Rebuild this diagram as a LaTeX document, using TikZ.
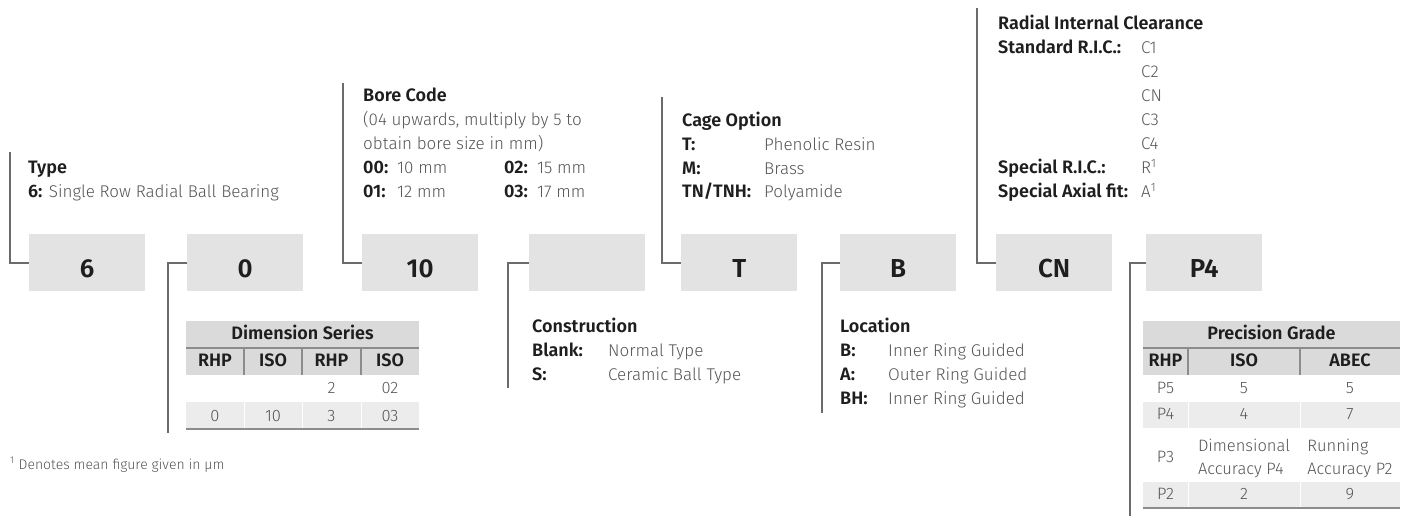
\documentclass[tikz,border=0pt]{standalone}
\usepackage{fontspec}
\setmainfont{Fira Sans}[UprightFont={* Light}, BoldFont={* SemiBold}]
\definecolor{boxgray}{HTML}{E3E3E3}
\definecolor{linegray}{HTML}{6B6B6B}
\definecolor{headcol}{HTML}{1E1E1E}
\definecolor{bodycol}{HTML}{555555}
\definecolor{hdrfill}{HTML}{DADADA}
\definecolor{rowfill}{HTML}{ECECEC}
\definecolor{tline}{HTML}{8C8C8C}
\begin{document}
\begin{tikzpicture}[x=1pt,y=-1pt,
  conn/.style={draw=linegray, line width=2pt},
  codebox/.style={fill=boxgray, minimum width=116pt, minimum height=57pt, inner sep=0pt,
    text height=29pt, text depth=0pt, anchor=north west,
    font=\bfseries\fontsize{26}{26}\selectfont, text=headcol},
  hd/.style={font=\bfseries\fontsize{18}{20}\selectfont, text=headcol, anchor=base west, inner sep=0pt},
  bk/.style={font=\bfseries\fontsize{18}{20}\selectfont, text=headcol, anchor=base west, inner sep=0pt},
  bd/.style={font=\fontsize{17}{20}\selectfont, text=bodycol, anchor=base west, inner sep=0pt},
  th/.style={font=\bfseries\fontsize{18}{20}\selectfont, text=headcol, anchor=base, inner sep=0pt},
  td/.style={font=\fontsize{16.5}{19}\selectfont, text=bodycol, anchor=base, inner sep=0pt},
  tl/.style={draw=tline, line width=1.2pt},
  wl/.style={draw=white, line width=1pt}
]
\useasboundingbox (0,0) rectangle (1406,518);

% code boxes
\node[codebox] (b6) at (29,234) {6};
\node[codebox] (b0) at (187,234) {0};
\node[codebox] (b10) at (362,234) {10};
\node[codebox] (bblank) at (529,234) {};
\node[codebox] (bT) at (681,234) {T};
\node[codebox] (bB) at (840,234) {B};
\node[codebox] (bCN) at (996,234) {CN};
\node[codebox] (bP4) at (1146,234) {P4};

% connector ends
\coordinate (cType) at (10,152);
\coordinate (cDim) at (168,433);
\coordinate (cBore) at (343,83);
\coordinate (cCon) at (508,388);
\coordinate (cCage) at (662,97);
\coordinate (cLoc) at (822,413);
\coordinate (cRic) at (977,8);
\coordinate (cPrec) at (1130,516);

\draw[conn] (cType) |- (b6.west);
\draw[conn] (b0.west) -| (cDim);
\draw[conn] (cBore) |- (b10.west);
\draw[conn] (bblank.west) -| (cCon);
\draw[conn] (cCage) |- (bT.west);
\draw[conn] (bB.west) -| (cLoc);
\draw[conn] (cRic) |- (bCN.west);
\draw[conn] (bP4.west) -| (cPrec);

% Type
\node[hd] (typeT) at (28,174) {Type};
\node[bd] (type1) at (28,198) {{\color{headcol}\bfseries\fontsize{18}{20}\selectfont 6:} Single Row Radial Ball Bearing};

% Bore code
\node[hd] (boreT) at (363,102) {Bore Code};
\node[bd] (bore1) at (363,126) {(04 upwards, multiply by 5 to};
\node[bd] (bore2) at (363,150) {obtain bore size in mm)};
\node[bk] (k00) at (363,174) {00:}; \node[bd] (v00) at (397,174) {10 mm};
\node[bk] (k01) at (363,198) {01:}; \node[bd] (v01) at (397,198) {12 mm};
\node[bk] (k02) at (504,174) {02:}; \node[bd] (v02) at (537,174) {15 mm};
\node[bk] (k03) at (504,198) {03:}; \node[bd] (v03) at (537,198) {17 mm};

% Cage option
\node[hd] (cageT) at (682,127) {Cage Option};
\node[bk] (kT) at (682,151) {T:}; \node[bd] (vT) at (764,151) {Phenolic Resin};
\node[bk] (kM) at (682,175) {M:}; \node[bd] (vM) at (764,175) {Brass};
\node[bk] (kTN) at (682,198) {TN/TNH:}; \node[bd] (vTN) at (764,198) {Polyamide};

% Radial internal clearance
\node[hd] (ricT) at (998,30) {Radial Internal Clearance};
\node[bk] (kStd) at (998,54) {Standard R.I.C.:};
\node[bd] (vC1) at (1141,54) {C1};
\node[bd] (vC2) at (1141,78) {C2};
\node[bd] (vCN) at (1141,102) {CN};
\node[bd] (vC3) at (1141,126) {C3};
\node[bd] (vC4) at (1141,150) {C4};
\node[bk] (kSpR) at (998,174) {Special R.I.C.:}; \node[bd] (vR) at (1141,174) {R\textsuperscript{1}};
\node[bk] (kSpA) at (998,198) {Special Axial fit:}; \node[bd] (vA) at (1141,198) {A\textsuperscript{1}};

% Construction
\node[hd] (conT) at (532,333) {Construction};
\node[bk] (kBl) at (532,357) {Blank:}; \node[bd] (vBl) at (608,357) {Normal Type};
\node[bk] (kS) at (532,381) {S:}; \node[bd] (vS) at (608,381) {Ceramic Ball Type};

% Location
\node[hd] (locT) at (840,333) {Location};
\node[bk] (kLB) at (840,357) {B:}; \node[bd] (vLB) at (888,357) {Inner Ring Guided};
\node[bk] (kLA) at (840,381) {A:}; \node[bd] (vLA) at (888,381) {Outer Ring Guided};
\node[bk] (kLBH) at (840,405) {BH:}; \node[bd] (vLBH) at (888,405) {Inner Ring Guided};

% Dimension series table
\fill[hdrfill] (186,321) rectangle (419,375);
\fill[rowfill] (186,402) rectangle (419,429);
\draw[tl] (186,348) -- (419,348);
\draw[tl] (244,348) -- (244,375);
\draw[tl] (302,348) -- (302,375);
\draw[tl] (361,348) -- (361,375);
\draw[wl] (244,402) -- (244,429);
\draw[wl] (302,402) -- (302,429);
\draw[wl] (361,402) -- (361,429);
\draw[tl, line width=1.6pt] (186,429) -- (419,429);
\node[th] (dsT) at (302.5,340) {Dimension Series};
\node[th] (dsH1) at (215,367) {RHP};
\node[th] (dsH2) at (273,367) {ISO};
\node[th] (dsH3) at (331.5,367) {RHP};
\node[th] (dsH4) at (390,367) {ISO};
\node[td] (ds13) at (331.5,394) {2};
\node[td] (ds14) at (390,394) {02};
\node[td] (ds21) at (215,421) {0};
\node[td] (ds22) at (273,421) {10};
\node[td] (ds23) at (331.5,421) {3};
\node[td] (ds24) at (390,421) {03};

% Precision grade table
\fill[hdrfill] (1143,321) rectangle (1400,375);
\fill[rowfill] (1143,402) rectangle (1400,428);
\fill[rowfill] (1143,482) rectangle (1400,508);
\draw[tl] (1143,348) -- (1400,348);
\draw[tl] (1188,348) -- (1188,375);
\draw[tl] (1300,348) -- (1300,375);
\draw[wl] (1188,402) -- (1188,428);
\draw[wl] (1300,402) -- (1300,428);
\draw[wl] (1188,482) -- (1188,508);
\draw[wl] (1300,482) -- (1300,508);
\draw[tl, line width=1.6pt] (1143,508) -- (1400,508);
\node[th] (pgT) at (1271.5,340) {Precision Grade};
\node[th] (pgH1) at (1165.5,367) {RHP};
\node[th] (pgH2) at (1244,367) {ISO};
\node[th] (pgH3) at (1350,367) {ABEC};
\node[td] (p51) at (1165.5,394) {P5};
\node[td] (p52) at (1244,394) {5};
\node[td] (p53) at (1350,394) {5};
\node[td] (p41) at (1165.5,420) {P4};
\node[td] (p42) at (1244,420) {4};
\node[td] (p43) at (1350,420) {7};
\node[td] (p31) at (1165.5,462) {P3};
\node[td, font=\fontsize{16.5}{23}\selectfont, anchor=center, align=left] (p32) at (1244,458) {Dimensional\\Accuracy P4};
\node[td, font=\fontsize{16.5}{23}\selectfont, anchor=center, align=left] (p33) at (1350,458) {Running\\Accuracy P2};
\node[td] (p21) at (1165.5,500) {P2};
\node[td] (p22) at (1244,500) {2};
\node[td] (p23) at (1350,500) {9};

% footnote
\node[bd, font=\fontsize{14}{16}\selectfont] (foot) at (10,469) {\textsuperscript{1} Denotes mean figure given in μm};
\end{tikzpicture}
\end{document}
